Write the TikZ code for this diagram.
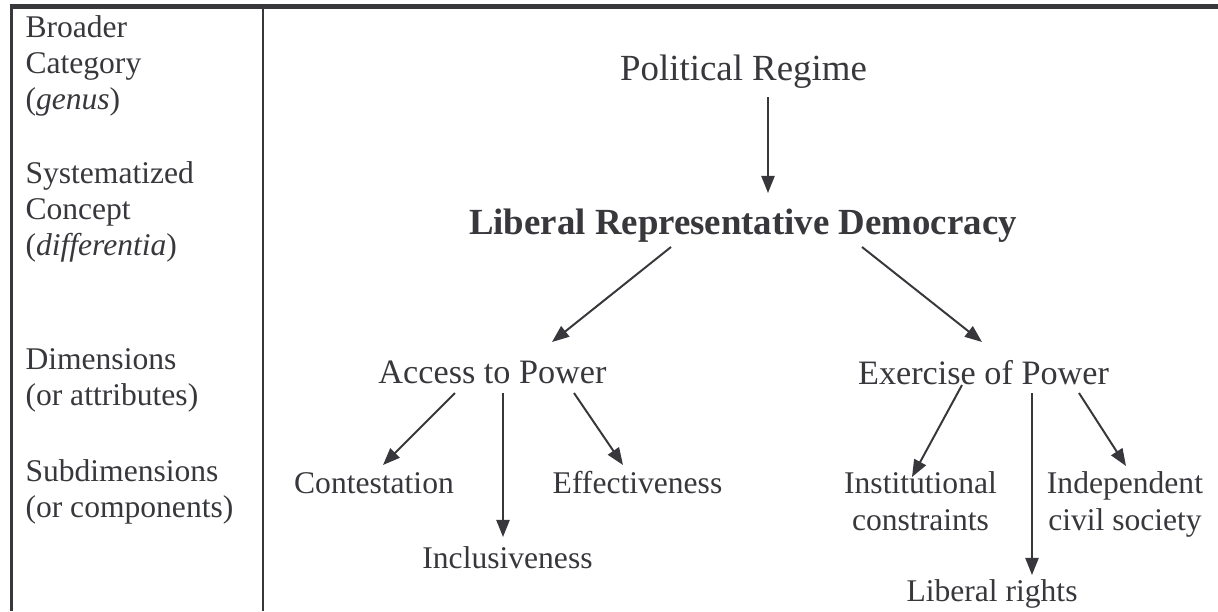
\documentclass[tikz,border=0pt]{standalone}
\usepackage{fontspec}
\setmainfont{Liberation Serif}
\usetikzlibrary{arrows.meta,calc}
\definecolor{inkgray}{RGB}{55,55,60}

\begin{document}
\begin{tikzpicture}[x=0.38pt,y=-0.38pt,
	every node/.style={inner sep=0pt,text=inkgray},
	lefttext/.style={anchor=north west,align=left,font=\fontsize{12}{13.6}\selectfont},
	headtext/.style={anchor=base,font=\fontsize{14}{16}\selectfont},
	dimtext/.style={anchor=base,font=\fontsize{13}{15}\selectfont},
	subtext/.style={anchor=base,font=\fontsize{12}{14}\selectfont},
	subpair/.style={anchor=north,align=center,font=\fontsize{12}{14}\selectfont},
	arr/.style={-{Triangle[length=6.5pt,width=5pt]},line width=0.75pt,inkgray}]
	
	\useasboundingbox (0,0) rectangle (1218,611);
	
	% table frame
	\draw[inkgray,line width=1.9pt] (9.5,6.5) -- (1218,6.5);
	\draw[inkgray,line width=1.5pt] (11.5,4) -- (11.5,611);
	\draw[inkgray,line width=1.1pt] (263,6.5) -- (263,611);
	
	% levels
	\node[lefttext] (genus) at (25, 15.3)  {Broader\\Category\\(\textit{genus})};
	\node[lefttext] (diff)  at (25, 161.3) {Systematized\\Concept\\(\textit{differentia})};
	\node[lefttext] (attr)  at (25, 348.3) {Dimensions\\(or attributes)};
	\node[lefttext] (comp)  at (25, 459.3) {Subdimensions\\(or components)};
	
	% concept tree
	\node[headtext] (regime)   at (743.5, 80)   {Political Regime};
	\node[headtext] (lrd)      at (743, 234)    {\textbf{Liberal Representative Democracy}};
	\node[dimtext]  (access)   at (492.5, 383)  {Access to Power};
	\node[dimtext]  (exercise) at (983.5, 384)  {Exercise of Power};
	\node[subtext]  (contest)  at (374, 493)    {Contestation};
	\node[subtext]  (incl)     at (507.5, 568)  {Inclusiveness};
	\node[subtext]  (effect)   at (637.5, 493)  {Effectiveness};
	\node[subpair]  (instit)   at (920.5, 471.3) {Institutional\\constraints};
	\node[subtext]  (rights)   at (992, 601)    {Liberal rights};
	\node[subpair]  (civil)    at (1125, 471.3) {Independent\\civil society};
	
	\draw[arr] ($(regime.base)+(24.5,17)$) -- ($(lrd.base)+(25,-41)$);
	\draw[arr] ($(lrd.base)+(-72,13)$) -- ($(access.base)+(59.5,-41)$);
	\draw[arr] ($(lrd.base)+(119,13)$) -- ($(exercise.base)+(-1.5,-42)$);
	
	\draw[arr] ($(access.base)+(-37.5,10)$) -- ($(contest.base)+(9,-28)$);
	\draw[arr] ($(access.base)+(10.5,10)$) -- ($(incl.base)+(-4.5,-31)$);
	\draw[arr] ($(access.base)+(81.5,10)$) -- ($(effect.base)+(-14.5,-28)$);
	
	\draw[arr] ($(exercise.base)+(-21.5,1)$) -- ($(instit.north)+(-8.5,5.7)$);
	\draw[arr] ($(exercise.base)+(48.5,9)$) -- ($(rights.base)+(40,-26)$);
	\draw[arr] ($(exercise.base)+(95.5,9)$) -- ($(civil.north)+(1,-5.3)$);
	
\end{tikzpicture}
\end{document}
